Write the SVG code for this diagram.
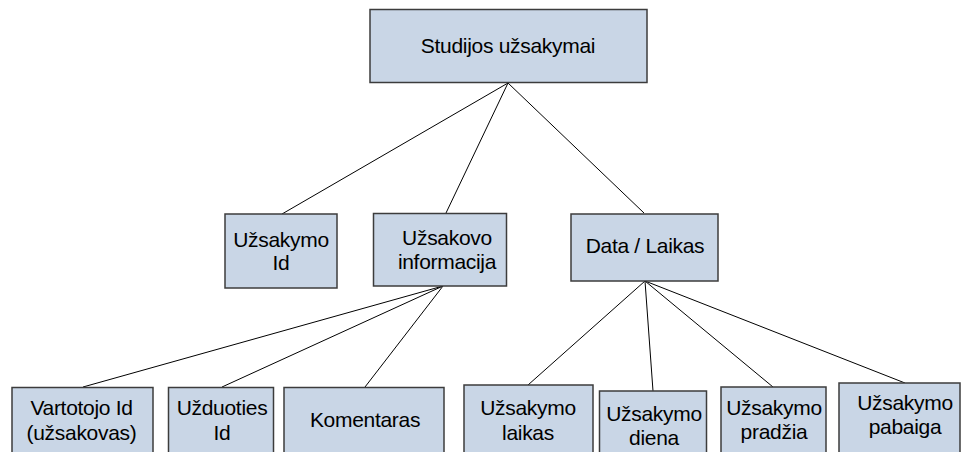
<svg xmlns="http://www.w3.org/2000/svg" width="963" height="452" viewBox="0 0 963 452">
  <style>
    .box { fill: #c9d6e6; stroke: #3c3c3c; stroke-width: 1.5; }
    .lbl { font-family: "Liberation Sans", Arial, sans-serif; font-size: 21px; letter-spacing: -0.3px; fill: #000; text-anchor: middle; }
    .edge { stroke: #000; stroke-width: 1; fill: none; }
  </style>
  <rect width="963" height="452" fill="#ffffff"/>

  <g id="connectors">
    <line class="edge" x1="508" y1="83" x2="282" y2="214"/>
    <line class="edge" x1="508" y1="83" x2="446" y2="213"/>
    <line class="edge" x1="508" y1="83" x2="644" y2="213"/>
    <line class="edge" x1="443" y1="286" x2="83" y2="387"/>
    <line class="edge" x1="443" y1="286" x2="222" y2="387"/>
    <line class="edge" x1="443" y1="286" x2="365" y2="387"/>
    <line class="edge" x1="645" y1="281" x2="528" y2="385"/>
    <line class="edge" x1="645" y1="281" x2="653" y2="391"/>
    <line class="edge" x1="645" y1="281" x2="773" y2="387"/>
    <line class="edge" x1="645" y1="281" x2="905" y2="383"/>
  </g>

  <g id="root">
    <rect class="box" x="370" y="9.5" width="277" height="73"/>
    <text class="lbl" x="508" y="53">Studijos užsakymai</text>
  </g>

  <g id="uzsakymo-id">
    <rect class="box" x="225" y="214" width="112" height="74"/>
    <text class="lbl" x="281" y="247">Užsakymo</text>
    <text class="lbl" x="281" y="270">Id</text>
  </g>

  <g id="uzsakovo-informacija">
    <rect class="box" x="373.5" y="213.5" width="133" height="72.5"/>
    <text class="lbl" x="447" y="245">Užsakovo</text>
    <text class="lbl" x="447" y="269">informacija</text>
  </g>

  <g id="data-laikas">
    <rect class="box" x="571" y="214" width="147" height="67"/>
    <text class="lbl" x="645" y="253">Data / Laikas</text>
  </g>

  <g id="vartotojo-id">
    <rect class="box" x="12" y="387.5" width="141" height="80"/>
    <text class="lbl" x="81.5" y="415">Vartotojo Id</text>
    <text class="lbl" x="81.5" y="440">(užsakovas)</text>
  </g>

  <g id="uzduoties-id">
    <rect class="box" x="168.5" y="387.5" width="105" height="80"/>
    <text class="lbl" x="222" y="415">Užduoties</text>
    <text class="lbl" x="222" y="440">Id</text>
  </g>

  <g id="komentaras">
    <rect class="box" x="284" y="387.5" width="160" height="80"/>
    <text class="lbl" x="365" y="427">Komentaras</text>
  </g>

  <g id="uzsakymo-laikas">
    <rect class="box" x="464" y="385" width="129" height="80"/>
    <text class="lbl" x="528" y="415">Užsakymo</text>
    <text class="lbl" x="528" y="440">laikas</text>
  </g>

  <g id="uzsakymo-diena">
    <rect class="box" x="599.5" y="391" width="107" height="80"/>
    <text class="lbl" x="654" y="421">Užsakymo</text>
    <text class="lbl" x="654" y="445">diena</text>
  </g>

  <g id="uzsakymo-pradzia">
    <rect class="box" x="721" y="387" width="105" height="80"/>
    <text class="lbl" x="774" y="415">Užsakymo</text>
    <text class="lbl" x="774" y="439">pradžia</text>
  </g>

  <g id="uzsakymo-pabaiga">
    <rect class="box" x="839" y="383" width="121" height="80"/>
    <text class="lbl" x="905" y="410">Užsakymo</text>
    <text class="lbl" x="905" y="434">pabaiga</text>
  </g>
</svg>
